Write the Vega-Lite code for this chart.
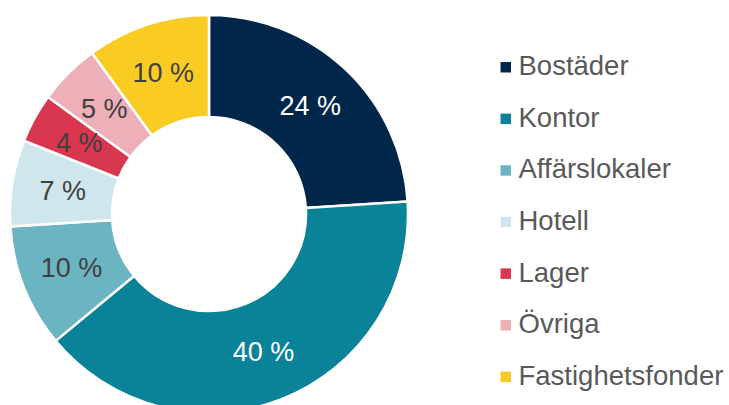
{
  "$schema": "https://vega.github.io/schema/vega-lite/v6.json",
  "width": 418,
  "height": 428,
  "padding": 0,
  "autosize": {"type": "pad"},
  "background": "white",
  "config": {"view": {"stroke": null}, "font": "Liberation Sans"},
  "data": {
    "values": [
      {"category": "Bostäder", "share": 24, "label": "24 %", "order": 1},
      {"category": "Kontor", "share": 40, "label": "40 %", "order": 2},
      {"category": "Affärslokaler", "share": 10, "label": "10 %", "order": 3},
      {"category": "Hotell", "share": 7, "label": "7 %", "order": 4},
      {"category": "Lager", "share": 4, "label": "4 %", "order": 5},
      {"category": "Övriga", "share": 5, "label": "5 %", "order": 6},
      {"category": "Fastighetsfonder", "share": 10, "label": "10 %", "order": 7}
    ]
  },
  "encoding": {
    "theta": {"field": "share", "type": "quantitative", "stack": true},
    "order": {"field": "order", "type": "quantitative"}
  },
  "layer": [
    {
      "mark": {"type": "arc", "outerRadius": 199, "innerRadius": 97, "stroke": "white", "strokeWidth": 2.5},
      "encoding": {
        "color": {
          "field": "category",
          "type": "nominal",
          "scale": {
            "domain": ["Bostäder", "Kontor", "Affärslokaler", "Hotell", "Lager", "Övriga", "Fastighetsfonder"],
            "range": ["#00264A", "#0A8298", "#6BB4C2", "#CFE7EC", "#D9374F", "#EDAFB8", "#FACB23"]
          },
          "legend": {
            "title": null,
            "orient": "none",
            "legendX": 492,
            "legendY": 53.5,
            "padding": 0,
            "symbolType": "square",
            "symbolSize": 110,
            "symbolStrokeWidth": 0,
            "labelFontSize": 27.5,
            "labelColor": "#595959",
            "labelFont": "Liberation Sans",
            "labelOffset": -1,
            "rowPadding": 22.6,
            "labelLimit": 400
          }
        }
      }
    },
    {
      "mark": {"type": "text", "radius": 148, "fontSize": 27, "font": "Liberation Sans", "baseline": "middle", "align": "center", "dy": 1},
      "encoding": {
        "text": {"field": "label", "type": "nominal"},
        "color": {
          "condition": {"test": "datum.category === 'Bostäder' || datum.category === 'Kontor'", "value": "white"},
          "value": "#404040"
        }
      }
    }
  ]
}
